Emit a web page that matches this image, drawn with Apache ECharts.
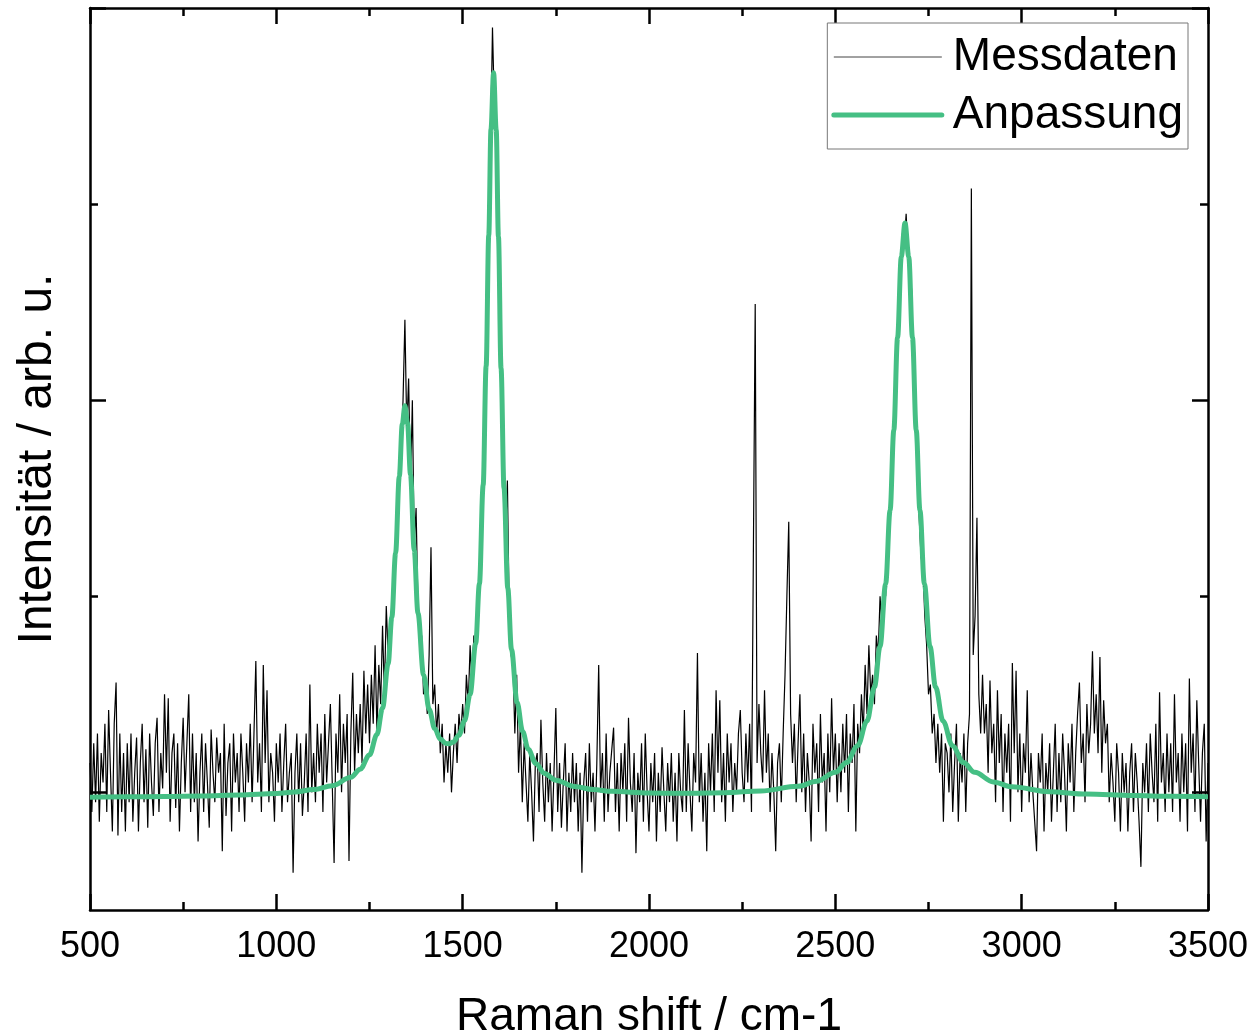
<!DOCTYPE html>
<html>
<head>
<meta charset="utf-8">
<script src="https://cdn.jsdelivr.net/npm/echarts@6/dist/echarts.min.js"></script>
<style>
  html, body { margin: 0; padding: 0; background: #fff; }
  #chart { width: 1253px; height: 1033px; }
</style>
</head>
<body>
<div id="chart"></div>
<script>
// Messdaten: Raman-Spektrum, Raster 500..3500 cm-1 in 5er Schritten
const shiftStart = 500
const shiftStep = 5
const measured = [
  // 500
  0.15, -0.1, 0.25, -0.05, 0.3, -0.15, 0.2, 0.05, 0.35, -0.1, 0.42, 0.1, -0.2, 0.35, 0.56, -0.22, 0.3, -0.1, 0.2, -0.2,
  // 600
  0.25, -0.05, 0.3, -0.15, 0.1, 0.28, -0.2, 0.15, 0.35, -0.05, 0.22, -0.18, 0.3, 0.05, -0.12, 0.25, 0.38, -0.1, 0.2, 0.02,
  // 700
  0.5, 0.1, 0.48, -0.15, 0.2, 0.3, -0.08, 0.25, -0.2, 0.15, 0.38, 0.0, 0.25, 0.5, -0.1, 0.3, -0.05, 0.2, -0.25, 0.1,
  // 800
  0.3, -0.1, 0.25, 0.05, -0.18, 0.32, 0.1, -0.05, 0.28, 0.1, 0.2, -0.3, 0.35, -0.12, 0.15, 0.25, -0.2, 0.3, 0.05, 0.2,
  // 900
  -0.1, 0.3, 0.1, -0.15, 0.25, 0.05, 0.35, -0.05, 0.3, 0.67, 0.05, 0.25, -0.1, 0.65, 0.15, 0.52, -0.05, 0.2, 0.1, -0.15,
  // 1000
  0.25, 0.05, 0.3, -0.1, 0.15, 0.35, -0.05, 0.1, 0.2, -0.41, 0.1, 0.3, -0.05, 0.25, -0.12, 0.05, 0.3, -0.1, 0.55, 0.0,
  // 1100
  0.2, -0.05, 0.35, 0.1, 0.3, -0.1, 0.4, 0.05, 0.25, 0.45, 0.05, -0.36, 0.3, 0.1, 0.5, 0.0, 0.35, 0.15, 0.4, -0.35,
  // 1200
  0.3, 0.61, 0.1, 0.4, 0.2, 0.45, 0.15, 0.62, 0.3, 0.55, 0.25, 0.6, 0.35, 0.75, 0.3, 0.65, 0.45, 0.85, 0.5, 0.95,
  // 1300 (D)
  0.7, 0.8, 0.95, 1.0, 1.3, 1.4, 1.55, 1.75, 2.0, 2.41, 1.85, 2.11, 1.55, 2.0, 1.25, 1.45, 0.95, 0.75, 0.8, 0.5,
  // 1400
  0.55, 0.4, 0.7, 1.25, 0.45, 0.55, 0.3, 0.45, 0.2, 0.35, 0.05, 0.25, 0.1, 0.3, 0.0, 0.2, 0.35, 0.15, 0.4, 0.3,
  // 1500 (G)
  0.45, 0.3, 0.6, 0.45, 0.75, 0.55, 0.8, 0.75, 1.0, 1.05, 1.35, 1.6, 1.95, 2.35, 2.8, 3.3, 3.9, 3.5, 3.3, 2.85,
  // 1600
  2.3, 1.9, 1.5, 1.3, 1.59, 0.9, 0.7, 0.65, 0.3, 0.6, 0.1, 0.35, -0.05, 0.25, 0.05, -0.15, 0.2, 0.0, -0.25, 0.15,
  // 1700
  0.2, -0.1, 0.37, 0.05, -0.15, 0.2, -0.05, 0.15, -0.2, 0.1, 0.43, -0.1, 0.15, -0.18, 0.05, 0.25, -0.2, 0.1, -0.1, 0.2,
  // 1800
  -0.05, 0.15, -0.2, 0.1, -0.41, 0.05, 0.2, -0.15, 0.25, -0.05, 0.1, -0.2, 0.15, 0.65, 0.0, 0.2, -0.15, 0.3, -0.1, 0.1,
  // 1900
  0.1, 0.33, -0.1, 0.15, -0.2, 0.2, 0.0, 0.25, -0.15, 0.38, 0.05, -0.1, 0.2, -0.31, 0.1, -0.05, 0.25, -0.15, 0.3, 0.0,
  // 2000
  -0.2, 0.15, -0.05, 0.2, -0.25, 0.1, -0.1, 0.23, 0.0, -0.2, 0.15, -0.05, 0.2, -0.15, 0.1, -0.25, 0.2, 0.0, -0.1, 0.42,
  // 2100
  -0.1, 0.25, 0.0, -0.2, 0.2, 0.05, 0.71, -0.05, 0.2, -0.15, 0.1, -0.3, 0.25, 0.0, 0.3, -0.1, 0.52, 0.1, 0.47, -0.05,
  // 2200
  0.2, -0.15, 0.3, 0.05, 0.25, -0.1, 0.15, 0.0, 0.3, 0.42, 0.1, -0.05, 0.3, 0.05, 0.35, -0.1, 1.2, 2.49, 0.15, 0.45,
  // 2300
  0.2, 0.05, 0.52, 0.1, 0.3, -0.1, 0.2, 0.0, -0.3, 0.15, 0.25, -0.05, 0.3, 0.6, 1.0, 1.38, 0.4, 0.15, 0.35, -0.05,
  // 2400
  0.25, 0.5, 0.0, 0.3, -0.1, 0.2, 0.05, -0.25, 0.35, 0.1, 0.25, -0.1, 0.4, 0.05, 0.2, -0.2, 0.3, 0.0, 0.48, 0.1,
  // 2500
  0.3, -0.05, 0.25, 0.0, 0.35, 0.1, 0.4, -0.1, 0.3, 0.15, 0.45, -0.2, 0.35, 0.2, 0.5, 0.3, 0.65, 0.4, 0.75, 0.5,
  // 2600 (2D)
  0.6, 0.45, 0.8, 0.7, 1.0, 0.85, 1.05, 1.0, 1.25, 1.4, 1.6, 1.75, 2.0, 2.2, 2.5, 2.65, 2.85, 2.8, 2.95, 2.75,
  // 2700
  2.7, 2.55, 2.1, 1.9, 1.6, 1.4, 1.2, 1.15, 0.9, 0.75, 0.5, 0.55, 0.3, 0.4, 0.15, 0.35, 0.1, 0.3, -0.15, 0.25,
  // 2800
  0.2, 0.0, 0.3, -0.1, 0.15, 0.35, -0.15, 0.2, 0.05, 0.3, -0.1, 0.25, 0.4, 3.08, 0.7, 0.9, 1.4, 0.5, 0.3, 0.6,
  // 2900
  0.3, 0.45, 0.1, 0.57, 0.2, 0.35, -0.05, 0.52, 0.15, 0.4, -0.1, 0.3, 0.1, 0.35, -0.15, 0.66, 0.2, 0.62, 0.0, 0.3,
  // 3000
  -0.1, 0.25, 0.1, 0.52, -0.05, 0.2, 0.0, -0.15, -0.3, 0.2, 0.05, 0.3, -0.2, 0.15, 0.0, 0.25, -0.15, 0.1, 0.35, -0.1,
  // 3100
  0.2, -0.05, 0.3, 0.1, -0.2, 0.25, 0.05, 0.35, -0.1, 0.2, 0.4, 0.56, 0.15, 0.3, -0.05, 0.45, 0.2, 0.35, 0.72, 0.3,
  // 3200
  0.5, 0.2, 0.69, 0.1, 0.47, 0.25, 0.35, -0.05, 0.2, 0.05, -0.15, 0.25, 0.1, -0.2, 0.2, 0.0, 0.15, -0.2, 0.1, 0.25,
  // 3300
  -0.1, 0.2, 0.05, -0.15, -0.38, 0.15, 0.0, 0.25, -0.1, 0.3, 0.1, -0.05, 0.35, -0.15, 0.51, 0.05, 0.2, -0.1, 0.3, 0.0,
  // 3400
  0.25, -0.1, 0.5, 0.05, 0.2, -0.15, 0.3, 0.0, 0.25, -0.2, 0.58, 0.1, 0.3, -0.1, 0.47, 0.15, -0.15, 0.2, 0.35, -0.25,
  // 3500
  0.15
]

// Anpassung (Fitkurve)
const fitShift = [
  500, 600, 700, 800, 900, 1000, 1050, 1100, 1150, 1200, 1225, 1250, 1270, 1285, 1300,
  1310, 1320, 1330, 1338, 1345, 1352, 1360, 1370, 1380, 1395, 1410, 1425, 1440, 1455, 1465,
  1475, 1490, 1505, 1520, 1535, 1545, 1555, 1563, 1570, 1576, 1583, 1590, 1596, 1603, 1611,
  1621, 1631, 1646, 1661, 1676, 1696, 1720, 1750, 1800, 1850, 1900, 2000, 2100, 2200, 2300,
  2400, 2450, 2500, 2530, 2560, 2585, 2605, 2620, 2635, 2647, 2657, 2667, 2677, 2687, 2697,
  2707, 2717, 2727, 2739, 2754, 2769, 2789, 2814, 2844, 2874, 2924, 2974, 3074, 3174, 3300,
  3400, 3500
]
const fitIntensity = [
  -0.025, -0.023, -0.021, -0.019, -0.014, -0.006, 0.002, 0.014, 0.034, 0.077, 0.118, 0.191, 0.295, 0.430, 0.656,
  0.893, 1.220, 1.612, 1.878, 1.971, 1.883, 1.621, 1.235, 0.915, 0.600, 0.424, 0.325, 0.272, 0.249, 0.248,
  0.257, 0.292, 0.365, 0.500, 0.759, 1.065, 1.567, 2.174, 2.841, 3.382, 3.670, 3.378, 2.834, 2.163, 1.551,
  1.043, 0.729, 0.459, 0.310, 0.220, 0.147, 0.096, 0.062, 0.030, 0.014, 0.005, -0.003, -0.005, -0.002, 0.007,
  0.031, 0.056, 0.102, 0.152, 0.238, 0.364, 0.537, 0.744, 1.063, 1.439, 1.849, 2.318, 2.732, 2.904, 2.732,
  2.318, 1.849, 1.439, 1.063, 0.744, 0.537, 0.364, 0.238, 0.152, 0.102, 0.053, 0.028, 0.003, -0.009, -0.016,
  -0.020, -0.022
]

const yMajor = [0, 2, 4]
const yMinor = [1, 3]

const font = 'Liberation Sans, Arial, Helvetica, sans-serif'
const green = '#45bf84'

const chart = echarts.init(document.getElementById('chart'), null, { renderer: 'canvas' })

function xAxisSide(position, showLabels) {
  return {
    type: 'value',
    position: position,
    min: 500,
    max: 3500,
    interval: 500,
    axisLine: { show: true, onZero: false, lineStyle: { color: '#000', width: 2.5 } },
    axisTick: { show: true, inside: true, length: 16, lineStyle: { color: '#000', width: 2.5 } },
    minorTick: { show: true, splitNumber: 2, length: 8, lineStyle: { color: '#000', width: 2.5 } },
    axisLabel: {
      show: showLabels, color: '#000', fontSize: 36, fontFamily: font, margin: 19,
      formatter: v => String(v)
    },
    splitLine: { show: false },
    name: showLabels ? 'Raman shift / cm-1' : '',
    nameLocation: 'middle',
    nameGap: 84,
    nameTextStyle: { color: '#000', fontSize: 46, fontFamily: font }
  }
}

function yAxisSide(position, ticks, len, withLine, withName) {
  return {
    type: 'value',
    position: position,
    min: -0.6,
    max: 4,
    axisLine: { show: withLine, onZero: false, lineStyle: { color: '#000', width: 2.5 } },
    axisTick: { show: true, inside: true, length: len, customValues: ticks, lineStyle: { color: '#000', width: 2.5 } },
    axisLabel: { show: false },
    splitLine: { show: false },
    name: withName ? 'Intensität / arb. u.' : '',
    nameLocation: 'middle',
    nameRotate: 90,
    nameGap: 28,
    nameTextStyle: { color: '#000', fontSize: 48, fontFamily: font }
  }
}

const measuredData = measured.map((v, i) => [shiftStart + i * shiftStep, v])
const fitData = fitShift.map((x, i) => [x, fitIntensity[i]])

chart.setOption({
  animation: false,
  backgroundColor: '#fff',
  grid: { left: 90, right: 45, top: 8, bottom: 123, containLabel: false, outerBoundsMode: 'none' },
  legend: {
    orient: 'vertical',
    right: 65,
    top: 23,
    padding: [11, 5, 11, 4],
    itemGap: 12,
    itemWidth: 108,
    itemHeight: 14,
    borderColor: '#777',
    borderWidth: 1,
    backgroundColor: '#fff',
    formatter: name => '{t|' + name + '}',
    textStyle: {
      color: '#000', fontSize: 46, fontFamily: font,
      rich: { t: { color: '#000', fontSize: 46, fontFamily: font, lineHeight: 51, padding: [0, 0, 0, 6] } }
    },
    data: [
      { name: 'Messdaten', itemStyle: { opacity: 0, borderWidth: 0 }, lineStyle: { color: '#444', width: 1 } },
      { name: 'Anpassung', itemStyle: { opacity: 0, borderWidth: 0 }, lineStyle: { color: green, width: 5, cap: 'round' } }
    ]
  },
  xAxis: [xAxisSide('bottom', true), xAxisSide('top', false)],
  yAxis: [
    yAxisSide('left', yMajor, 16, true, true),
    yAxisSide('left', yMinor, 8, false, false),
    yAxisSide('right', yMajor, 16, true, false),
    yAxisSide('right', yMinor, 8, false, false)
  ],
  series: [
    {
      name: 'Messdaten',
      type: 'line',
      data: measuredData,
      symbol: 'none',
      lineStyle: { color: '#000', width: 1.2 },
      itemStyle: { color: '#000' },
      z: 2
    },
    {
      name: 'Anpassung',
      type: 'line',
      data: fitData,
      symbol: 'none',
      smooth: 0.35,
      smoothMonotone: 'x',
      lineStyle: { color: green, width: 5 },
      itemStyle: { color: green },
      z: 3
    }
  ]
})
</script>
</body>
</html>
